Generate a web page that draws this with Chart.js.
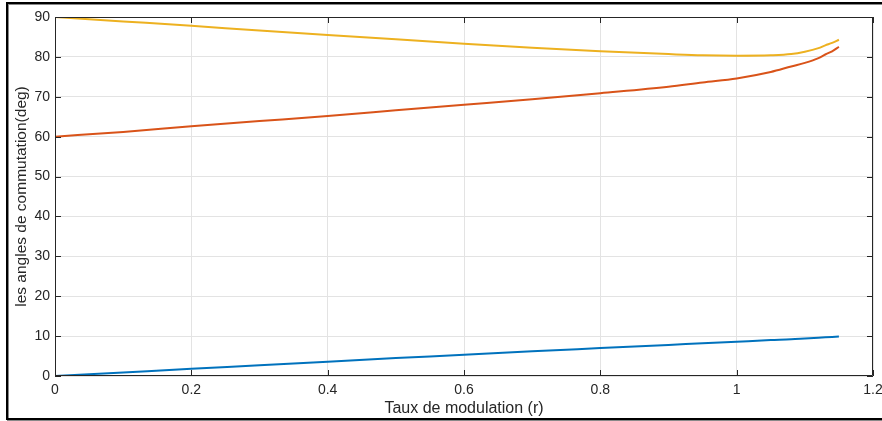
<!DOCTYPE html>
<html lang="fr">
<head>
<meta charset="UTF-8">
<title>Angles de commutation</title>
<script src="https://cdn.jsdelivr.net/npm/chart.js"></script>
<style>
    html, body {
        margin: 0;
        padding: 0;
        background: #fff;
        overflow: hidden;
    }
    .wrap {
        position: relative;
        width: 882px;
        height: 421px;
    }
    .frame {
        position: absolute;
        left: 6px;
        top: 2px;
        width: 900px;
        height: 414px;
        border: 2px solid #000;
        box-shadow: 1px 1px 0 #888, inset 1px 1px 0 #888;
        pointer-events: none;
    }
</style>
</head>
<body>
<div class="wrap">
    <canvas id="chart" width="882" height="421"></canvas>
    <div class="frame"></div>
</div>
<script>
// modulation ratio r
const rValues = [0, 0.1, 0.2, 0.3, 0.4, 0.5, 0.6, 0.7, 0.8, 0.9, 0.95, 1.0, 1.05, 1.08, 1.1, 1.12, 1.13, 1.14, 1.15];
// switching angles (deg)
const alpha1 = [0, 0.9, 1.8, 2.7, 3.6, 4.5, 5.3, 6.2, 7.0, 7.8, 8.2, 8.6, 9.0, 9.2, 9.4, 9.6, 9.7, 9.8, 9.9];
const alpha2 = [60, 61.2, 62.6, 63.9, 65.2, 66.6, 68.0, 69.4, 70.9, 72.5, 73.6, 74.6, 76.2, 77.6, 78.5, 79.7, 80.6, 81.4, 82.5];
const alpha3 = [90, 88.9, 87.8, 86.6, 85.5, 84.4, 83.3, 82.3, 81.4, 80.7, 80.4, 80.3, 80.4, 80.7, 81.3, 82.2, 82.9, 83.5, 84.3];

const xTicks = [0, 0.2, 0.4, 0.6, 0.8, 1, 1.2];
const yTicks = [0, 10, 20, 30, 40, 50, 60, 70, 80, 90];

const toPoints = ys => rValues.map((r, i) => ({ x: r, y: ys[i] }));

const axisColor = '#262626';
const fontFamily = '"Liberation Sans", Arial, Helvetica, sans-serif';

// MATLAB style box + inward ticks
const boxPlugin = {
    id: 'matlabBox',
    afterDraw(chart) {
        const { ctx, chartArea: a, scales } = chart;
        const len = 6;
        ctx.save();
        ctx.strokeStyle = axisColor;
        ctx.lineWidth = 1;
        ctx.beginPath();
        ctx.rect(a.left + 0.5, a.top + 0.5, a.right - a.left - 1, a.bottom - a.top - 1);
        xTicks.forEach(v => {
            const px = Math.round(scales.x.getPixelForValue(v)) + 0.5;
            ctx.moveTo(px, a.bottom);
            ctx.lineTo(px, a.bottom - len);
            ctx.moveTo(px, a.top);
            ctx.lineTo(px, a.top + len);
        });
        yTicks.forEach(v => {
            const py = Math.round(scales.y.getPixelForValue(v)) + 0.5;
            ctx.moveTo(a.left, py);
            ctx.lineTo(a.left + len, py);
            ctx.moveTo(a.right, py);
            ctx.lineTo(a.right - len, py);
        });
        ctx.stroke();
        ctx.restore();
    }
};

new Chart(document.getElementById('chart'), {
    type: 'line',
    data: {
        datasets: [
            { data: toPoints(alpha1), borderColor: '#0072BD' },
            { data: toPoints(alpha2), borderColor: '#D95319' },
            { data: toPoints(alpha3), borderColor: '#EDB120' }
        ]
    },
    options: {
        responsive: false,
        animation: false,
        events: [],
        layout: { padding: { left: 7, top: 17, right: 9, bottom: 0 } },
        elements: {
            point: { radius: 0 },
            line: { borderWidth: 2, tension: 0.4, cubicInterpolationMode: 'monotone', fill: false }
        },
        plugins: {
            legend: { display: false },
            tooltip: { enabled: false }
        },
        scales: {
            x: {
                type: 'linear',
                min: 0,
                max: 1.2,
                afterBuildTicks: s => { s.ticks = xTicks.map(v => ({ value: v })); },
                afterFit: s => {
                    s.height = 45;
                    s.paddingLeft = 0;
                    s.paddingRight = 0;
                },
                grid: { color: '#e3e3e3', drawTicks: false },
                border: { display: false },
                ticks: {
                    padding: 6,
                    maxRotation: 0,
                    color: axisColor,
                    font: { family: fontFamily, size: 14 },
                    callback: v => String(v)
                },
                title: {
                    display: true,
                    text: 'Taux de modulation (r)',
                    color: axisColor,
                    font: { family: fontFamily, size: 16 },
                    padding: { top: 0, bottom: 3 }
                }
            },
            y: {
                min: 0,
                max: 90,
                afterBuildTicks: s => { s.ticks = yTicks.map(v => ({ value: v })); },
                afterFit: s => {
                    s.width = 48;
                    s.paddingTop = 0;
                    s.paddingBottom = 0;
                },
                grid: { color: '#e3e3e3', drawTicks: false },
                border: { display: false },
                ticks: {
                    padding: 5,
                    color: axisColor,
                    font: { family: fontFamily, size: 14 }
                },
                title: {
                    display: true,
                    text: 'les angles de commutation(deg)',
                    color: axisColor,
                    font: { family: fontFamily, size: 15.5 },
                    padding: { top: 5, bottom: 0 }
                }
            }
        }
    },
    plugins: [boxPlugin]
});
</script>
</body>
</html>
